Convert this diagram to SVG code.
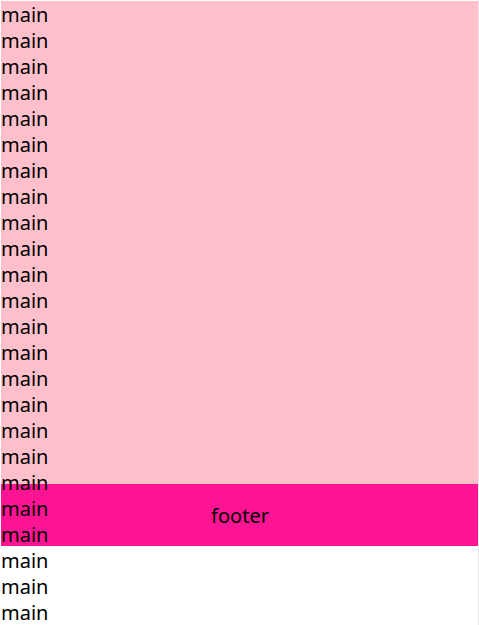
<svg xmlns="http://www.w3.org/2000/svg" width="479" height="625" viewBox="0 0 479 625">
<style>
.t{font-family:"Noto Sans","Open Sans","Liberation Sans",sans-serif;font-size:20px;fill:#000}
</style>
<rect width="479" height="625" fill="#fff"/>
<g id="main">
<rect x="1" y="1" width="477" height="483" fill="#ffc0cb"/>
</g>
<g id="footer">
<rect x="1" y="484" width="477" height="62" fill="#ff1493"/>
<text class="t" x="240" y="523" text-anchor="middle">footer</text>
</g>
<g id="main-text" class="t">
<text x="1" y="22">main</text>
<text x="1" y="48">main</text>
<text x="1" y="74">main</text>
<text x="1" y="100">main</text>
<text x="1" y="126">main</text>
<text x="1" y="152">main</text>
<text x="1" y="178">main</text>
<text x="1" y="204">main</text>
<text x="1" y="230">main</text>
<text x="1" y="256">main</text>
<text x="1" y="282">main</text>
<text x="1" y="308">main</text>
<text x="1" y="334">main</text>
<text x="1" y="360">main</text>
<text x="1" y="386">main</text>
<text x="1" y="412">main</text>
<text x="1" y="438">main</text>
<text x="1" y="464">main</text>
<text x="1" y="490">main</text>
<text x="1" y="516">main</text>
<text x="1" y="542">main</text>
<text x="1" y="568">main</text>
<text x="1" y="594">main</text>
<text x="1" y="620">main</text>
</g>
<line x1="478.5" y1="0" x2="478.5" y2="625" stroke="#e6e6e6" stroke-width="1"/>
</svg>
